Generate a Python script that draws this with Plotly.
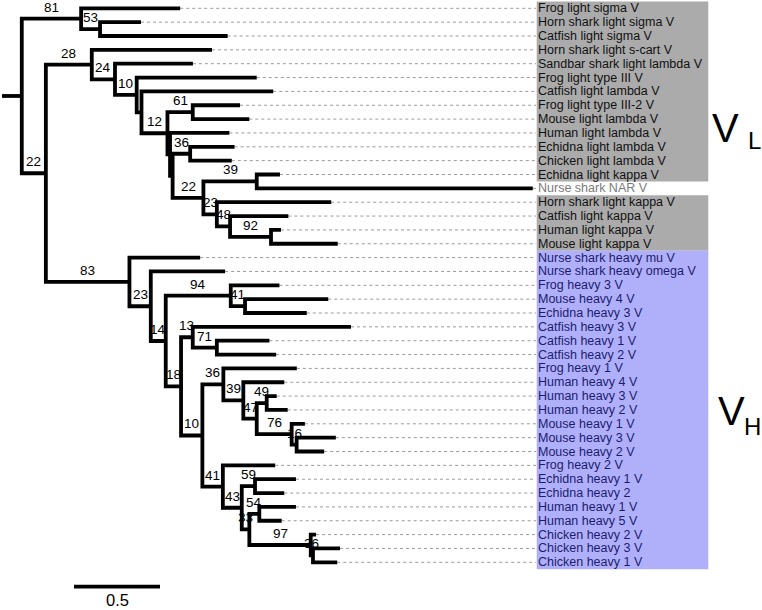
import plotly.graph_objects as go

# ---------------- data ----------------
leaf_names = [
    "Frog light sigma V", "Horn shark light sigma V", "Catfish light sigma V",
    "Horn shark light s-cart V", "Sandbar shark light lambda V", "Frog light type III V",
    "Catfish light lambda V", "Frog light type III-2 V", "Mouse light lambda V",
    "Human light lambda V", "Echidna light lambda V", "Chicken light lambda V",
    "Echidna light kappa V", "Nurse shark NAR V", "Horn shark light kappa V",
    "Catfish light kappa V", "Human light kappa V", "Mouse light kappa V",
    "Nurse shark heavy mu V", "Nurse shark heavy omega V", "Frog heavy 3 V",
    "Mouse heavy 4 V", "Echidna heavy 3 V", "Catfish heavy 3 V", "Catfish heavy 1 V",
    "Catfish heavy 2 V", "Frog heavy 1 V", "Human heavy 4 V", "Human heavy 3 V",
    "Human heavy 2 V", "Mouse heavy 1 V", "Mouse heavy 3 V", "Mouse heavy 2 V",
    "Frog heavy 2 V", "Echidna heavy 1 V", "Echidna heavy 2", "Human heavy 1 V",
    "Human heavy 5 V", "Chicken heavy 2 V", "Chicken heavy 3 V", "Chicken heavy 1 V",
]
leaf_group = (["light"] * 13 + ["nar"] + ["light"] * 4 + ["heavy"] * 23)
leaf_parents = [
    "n81", "n53", "n53", "n28", "n24", "n10a", "nC", "n61", "n61", "nA", "n36a", "n36a",
    "n39a", "n39a", "n23a", "n48", "n92", "n92", "n83", "n23b", "n94", "n41a", "n41a",
    "n13", "n71", "n71", "n36b", "n39b", "n49", "n49", "n76", "n16", "n16", "n41b",
    "n59", "n59", "n54", "n54", "n97", "n36c", "n36c",
]
leaf_lengths = [
    0.576, 0.238, 0.742, 0.699, 0.453, 0.698, 0.766, 0.275, 0.329, 0.345, 0.258, 0.242,
    0.135, 1.605, 0.665, 0.339, 0.058, 0.388, 0.411, 0.432, 0.283, 0.484, 0.359,
    0.920, 0.306, 0.345, 0.427, 0.238, 0.058, 0.122, 0.077, 0.228, 0.160, 0.304,
    0.238, 0.170, 0.213, 0.130, 0.031, 0.157, 0.141,
]

node_ids = [
    "root", "n81", "n53", "n22a", "n28", "n24", "n10a", "nC", "n12", "n61", "nA", "nB",
    "n36a", "n22b", "n39a", "n23a", "n48", "n92", "n83", "n23b", "n14", "n94", "n41a",
    "n18", "n13", "n71", "n10b", "n36b", "n39b", "n47", "n49", "n76", "n16", "n41b",
    "n43", "n59", "n33", "n54", "n97", "n36c",
]
node_parents = [
    None, "root", "n81", "root", "n22a", "n28", "n24", "n10a", "nC", "n12", "n12", "nA",
    "nB", "nB", "n22b", "n22b", "n23a", "n48", "n22a", "n83", "n23b", "n14", "n94",
    "n14", "n18", "n13", "n18", "n10b", "n36b", "n39b", "n47", "n47", "n76", "n10b",
    "n41b", "n43", "n43", "n33", "n33", "n97",
]
node_lengths = [
    0.115, 0.345, 0.110, 0.140, 0.267, 0.135, 0.126, 0.028, 0.151, 0.147, 0.015, 0.015,
    0.102, 0.179, 0.310, 0.078, 0.077, 0.238, 0.486, 0.124, 0.087, 0.378, 0.083,
    0.089, 0.068, 0.140, 0.124, 0.122, 0.116, 0.078, 0.058, 0.203, 0.029, 0.119,
    0.110, 0.077, 0.044, 0.058, 0.357, 0.013,
]
node_support = [
    "", "81", "53", "22", "28", "24", "10", "", "12", "61", "", "",
    "36", "22", "39", "23", "48", "92", "83", "23", "14", "94", "41",
    "18", "13", "71", "10", "36", "39", "47", "49", "76", "16", "41",
    "43", "59", "33", "54", "97", "36",
]
scale_value = 0.5

# ---------------- layout of the tree ----------------
parent = {}
length = {}
for n, p, l in zip(node_ids, node_parents, node_lengths):
    parent[n] = p
    length[n] = l
for i, (p, l) in enumerate(zip(leaf_parents, leaf_lengths)):
    parent[f"L{i}"] = p
    length[f"L{i}"] = l

children = {}
for n, p in parent.items():
    if p is not None:
        children.setdefault(p, []).append(n)

depth = {}
def get_depth(n):
    if n not in depth:
        p = parent[n]
        depth[n] = length[n] + (get_depth(p) if p is not None else 0.0)
    return depth[n]

ypos = {f"L{i}": float(i) for i in range(len(leaf_names))}
def get_y(n):
    if n not in ypos:
        ys = [get_y(c) for c in children[n]]
        ypos[n] = (min(ys) + max(ys)) / 2
    return ypos[n]

for n in parent:
    get_depth(n)
    get_y(n)

# branch paths
bx, by = [], []
bx += [0.0, depth["root"], None]
by += [ypos["root"], ypos["root"], None]
for n in node_ids:
    cs = sorted(children[n], key=lambda c: ypos[c])
    top, bot = cs[0], cs[-1]
    bx += [depth[top], depth[n], depth[n], depth[bot], None]
    by += [ypos[top], ypos[top], ypos[bot], ypos[bot], None]

PX = 172.0  # pixels per unit
ROW = 13.85
Y0 = 8.3
X_LABEL = (535.7 - 2) / PX
X_LEADER = (536.0 - 2) / PX
X_BOX0 = (536.7 - 2) / PX
X_BOX1 = (708.3 - 2) / PX

lx, ly = [], []
for i in range(len(leaf_names)):
    lx += [depth[f"L{i}"], X_LEADER, None]
    ly += [i, i, None]

fig = go.Figure()

fig.add_trace(go.Scatter(x=lx, y=ly, mode="lines",
                         line=dict(color="#9a9a9a", width=1, dash="dot"),
                         hoverinfo="skip", showlegend=False))
fig.add_trace(go.Scatter(x=bx, y=by, mode="lines",
                         line=dict(color="black", width=3.8),
                         hoverinfo="skip", showlegend=False))

# scale bar
SB_X = (74 - 2) / PX
SB_Y = (586.7 - Y0) / ROW
fig.add_trace(go.Scatter(x=[SB_X, SB_X + scale_value], y=[SB_Y, SB_Y], mode="lines",
                         line=dict(color="black", width=3.8),
                         hoverinfo="skip", showlegend=False))

FONT = "Liberation Sans, Arial, sans-serif"
ann = []
ann.append(dict(x=SB_X + scale_value / 2, y=(599.5 - Y0) / ROW, text=str(scale_value),
                showarrow=False, xanchor="center", yanchor="middle",
                font=dict(family=FONT, size=16.5, color="black")))

colors = {"light": "#111111", "nar": "#7a7a7a", "heavy": "#1c1c6e"}
for i, (name, g) in enumerate(zip(leaf_names, leaf_group)):
    ann.append(dict(x=X_LABEL, y=i, text=name, showarrow=False,
                    xanchor="left", yanchor="middle",
                    font=dict(family=FONT, size=12.5, color=colors[g])))

for n, s in zip(node_ids, node_support):
    if not s:
        continue
    p = parent[n]
    xm = (depth[p] + depth[n]) / 2
    ann.append(dict(x=xm, y=ypos[n], text=s, showarrow=False, xanchor="center",
                    yanchor="middle", yshift=11.5,
                    font=dict(family=FONT, size=13.5, color="black")))

W, H = 762, 610
def pap(px, py):
    return px / W, 1 - py / H

for txt, (px, py), size, anc in [
    ("V", (725, 127.5), 40, "center"), ("L", (745.5, 140.5), 24, "left"),
    ("V", (731, 411), 40, "center"), ("H", (741.5, 426), 24, "left"),
]:
    x, y = pap(px, py)
    ann.append(dict(x=x, y=y, xref="paper", yref="paper", text=txt, showarrow=False,
                    xanchor=anc, yanchor="middle",
                    font=dict(family=FONT, size=size, color="black")))

shapes = []
grey_blocks = [(0, 12), (14, 17)]
blue_blocks = [(18, 40)]
for a, b in grey_blocks:
    shapes.append(dict(type="rect", xref="x", yref="y", x0=X_BOX0, x1=X_BOX1,
                       y0=a - 0.5, y1=b + 0.5, fillcolor="#ababab",
                       line=dict(width=0), layer="below"))
for a, b in blue_blocks:
    shapes.append(dict(type="rect", xref="x", yref="y", x0=X_BOX0, x1=X_BOX1,
                       y0=a - 0.5, y1=b + 0.5, fillcolor="#b0b0fa",
                       line=dict(width=0), layer="below"))

fig.update_layout(
    width=W, height=H, margin=dict(l=0, r=0, t=0, b=0),
    paper_bgcolor="white", plot_bgcolor="white",
    xaxis=dict(range=[-2 / PX, (W - 2) / PX], visible=False, fixedrange=True),
    yaxis=dict(range=[(H - Y0) / ROW, -Y0 / ROW], visible=False, fixedrange=True),
    annotations=ann, shapes=shapes, showlegend=False,
)
fig.write_html("out.html", config={"displayModeBar": False},
               post_script="document.body.style.margin='0';document.body.style.overflow='hidden';")
